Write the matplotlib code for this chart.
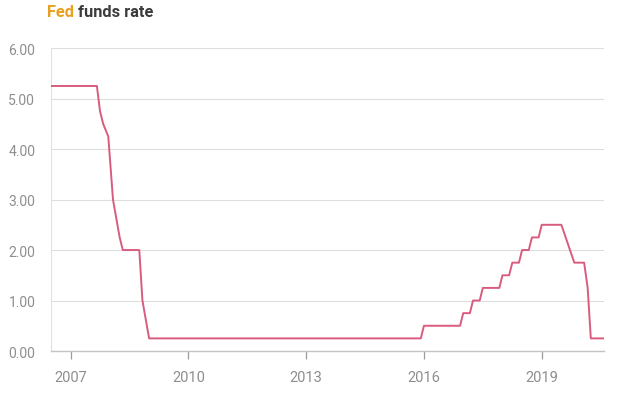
import matplotlib
matplotlib.use("Agg")
import matplotlib.pyplot as plt

# Fed funds target rate (upper bound), breakpoints as decimal years
fecha = [2006.49, 2007.67, 2007.75, 2007.83, 2007.96, 2008.08, 2008.25, 2008.33,
         2008.75, 2008.83, 2009.0, 2015.92, 2016.0, 2016.92, 2017.0, 2017.17,
         2017.25, 2017.42, 2017.5, 2017.92, 2018.0, 2018.17, 2018.25, 2018.42,
         2018.5, 2018.67, 2018.75, 2018.92, 2019.0, 2019.5, 2019.83, 2020.08,
         2020.17, 2020.25, 2020.59]
tasa = [5.25, 5.25, 4.75, 4.5, 4.25, 3.0, 2.25, 2.0,
        2.0, 1.0, 0.25, 0.25, 0.5, 0.5, 0.75, 0.75,
        1.0, 1.0, 1.25, 1.25, 1.5, 1.5, 1.75, 1.75,
        2.0, 2.0, 2.25, 2.25, 2.5, 2.5, 1.75, 1.75,
        1.25, 0.25, 0.25]

anios = [2007, 2010, 2013, 2016, 2019]
niveles = [0, 1, 2, 3, 4, 5, 6]

plt.rcParams['font.family'] = ['Roboto', 'DejaVu Sans']

fig = plt.figure(figsize=(6.4, 4.06), dpi=100)
ax = fig.add_axes([0.079, 0.133, 0.865, 0.746])

ax.plot(fecha, tasa, color="#d95c7e", linewidth=1.4, zorder=3)

ax.set_xlim(2006.49, 2020.59)
ax.set_ylim(0, 6)
ax.set_xticks(anios)
ax.set_xticklabels([str(a) for a in anios])
ax.set_yticks(niveles)
ax.set_yticklabels([f"{v:.2f}" for v in niveles])

ax.grid(axis="y", color="#dedede", linewidth=0.8)
ax.set_axisbelow(True)

for s in ["top", "right"]:
    ax.spines[s].set_visible(False)
ax.spines["left"].set_color("#e2e2e2")
ax.spines["left"].set_linewidth(0.8)
ax.spines["bottom"].set_color("#c4c4c4")
ax.spines["bottom"].set_linewidth(1.0)

ax.tick_params(axis="x", length=6, width=0.9, color="#9a9a9a", pad=8,
               labelsize=10.5, labelcolor="#8e8e8e")
ax.tick_params(axis="y", length=0, pad=11, labelsize=10, labelcolor="#8e8e8e")

# Título con "Fed" en naranja
t1 = fig.text(0.073, 0.958, "Fed", color="#e8a020", fontsize=11.8,
              fontweight="bold", va="baseline")
fig.canvas.draw()
bb = t1.get_window_extent()
x2 = bb.x1 / fig.bbox.width
fig.text(x2 + 0.006, 0.958, "funds rate", color="#3c3c3c", fontsize=11.8,
         fontweight="bold", va="baseline")

fig.savefig("out.png", dpi=100)
